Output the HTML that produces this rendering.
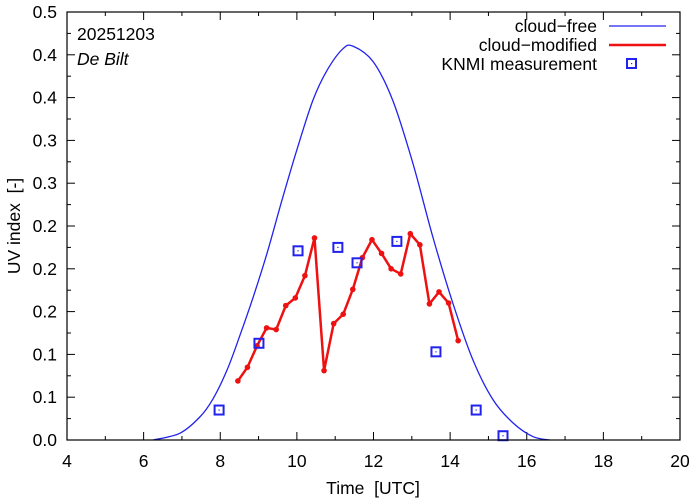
<!DOCTYPE html>
<html><head><meta charset="utf-8"><style>
body{margin:0;background:#fff}
svg{display:block;font-family:"Liberation Sans",sans-serif}
</style></head><body>
<svg id="chart" width="694" height="501" viewBox="0 0 694 501" xmlns="http://www.w3.org/2000/svg">
<g id="grid"></g>
<g id="series"></g>
<rect x="67" y="12" width="613" height="428" fill="none" stroke="#000" stroke-width="1.2"/>
<text x="77" y="40" font-size="17.5">20251203</text>
<text x="77" y="65" font-size="17.5" font-style="italic">De Bilt</text>
<text x="373" y="494" font-size="17.5" text-anchor="middle" xml:space="preserve">Time  [UTC]</text>
<text transform="translate(20,226) rotate(-90)" font-size="17.5" text-anchor="middle" xml:space="preserve">UV index  [-]</text>
<g>
<text x="597" y="32" font-size="17.5" text-anchor="end">cloud−free</text>
<line x1="609" y1="26" x2="666" y2="26" stroke="#2222ee" stroke-width="1.3"/>
<text x="597" y="51" font-size="17.5" text-anchor="end">cloud−modified</text>
<line x1="609" y1="45" x2="666" y2="45" stroke="#ee1111" stroke-width="2.5"/>
<text x="597" y="70" font-size="17.5" text-anchor="end">KNMI measurement</text>
<rect x="627" y="59" width="9" height="9" fill="none" stroke="#2222ee" stroke-width="2"/>
<rect x="631" y="63" width="1.2" height="1.2" fill="#2222ee"/>
</g>
</svg>
<script>
const freeTimes=[6.25,6.95,7.47,7.81,8.18,8.52,8.86,9.22,9.61,10.0,10.42,10.79,11.2,11.47,11.99,12.5,13.03,13.55,14.07,14.6,15.12,15.64,16.16,16.6];
const freeValues=[0,0.008,0.027,0.048,0.082,0.123,0.167,0.218,0.280,0.339,0.397,0.432,0.457,0.460,0.442,0.397,0.323,0.237,0.160,0.093,0.047,0.020,0.004,0];
const modTimes=[8.46,8.71,8.96,9.21,9.46,9.71,9.96,10.21,10.46,10.71,10.96,11.21,11.46,11.71,11.96,12.21,12.46,12.71,12.96,13.21,13.46,13.71,13.96,14.21];
const modValues=[0.069,0.085,0.110,0.131,0.129,0.157,0.166,0.192,0.236,0.081,0.136,0.147,0.176,0.213,0.234,0.218,0.200,0.194,0.241,0.228,0.159,0.173,0.160,0.116];
const measTimes=[7.97,9.01,10.03,11.07,11.57,12.61,13.63,14.68,15.38];
const measValues=[0.035,0.113,0.221,0.225,0.207,0.232,0.103,0.035,0.005];
const xTicks=[4,6,8,10,12,14,16,18,20];
const yTickValues=[0,0.05,0.1,0.15,0.2,0.25,0.3,0.35,0.4,0.45,0.5];
const yTickLabels=["0.0","0.1","0.1","0.2","0.2","0.2","0.3","0.3","0.4","0.4","0.5"];
const NS="http://www.w3.org/2000/svg";
const X=t=>67+(t-4)*613/16, Y=v=>440-v*856;
const grid=document.getElementById('grid'),ser=document.getElementById('series');
function mk(tag,attrs,parent){const e=document.createElementNS(NS,tag);for(const k in attrs)e.setAttribute(k,attrs[k]);parent.appendChild(e);return e;}
for(let t=4;t<=20;t++){const L=t%2===0?8:4;
 const a=mk('line',{x1:X(t),x2:X(t),y1:440,y2:440-L,stroke:'#000'},grid);
 
 
 mk('line',{x1:X(t),x2:X(t),y1:12,y2:12+L,stroke:'#000'},grid);}
xTicks.forEach(t=>{const e=mk('text',{x:X(t),y:467,'font-size':17.5,'text-anchor':'middle'},grid);e.textContent=t;
 
 });
for(let i=0;i<=20;i++){const v=i*0.025,L=i%2===0?8:4;
 mk('line',{x1:67,x2:67+L,y1:Y(v),y2:Y(v),stroke:'#000'},grid);
 mk('line',{x1:680,x2:680-L,y1:Y(v),y2:Y(v),stroke:'#000'},grid);}
yTickLabels.forEach((s,i)=>{const e=mk('text',{x:57,y:Y(yTickValues[i])+6,'font-size':17.5,'text-anchor':'end'},grid);e.textContent=s;
 
 });
const P=freeTimes.map((t,i)=>[X(t),Y(freeValues[i])]);
let d='M'+P[0][0]+','+P[0][1];
for(let i=0;i<P.length-1;i++){const p0=P[Math.max(0,i-1)],p1=P[i],p2=P[i+1],p3=P[Math.min(P.length-1,i+2)];
 d+='C'+(p1[0]+(p2[0]-p0[0])/6)+','+(p1[1]+(p2[1]-p0[1])/6)+' '+(p2[0]-(p3[0]-p1[0])/6)+','+(p2[1]-(p3[1]-p1[1])/6)+' '+p2[0]+','+p2[1];}
const fp=mk('path',{d:d,fill:'none',stroke:'#2222ee','stroke-width':1.3},ser);


const mp=mk('path',{d:modTimes.map((t,i)=>(i?'L':'M')+X(t)+','+Y(modValues[i])).join(''),fill:'none',stroke:'#ee1111','stroke-width':2.5,'stroke-linejoin':'round'},ser);


modTimes.forEach((t,i)=>{const c=mk('circle',{cx:X(t),cy:Y(modValues[i]),r:2.8,fill:'#ee1111'},ser);
 
 });
measTimes.forEach((t,i)=>{const x=X(t),y=Y(measValues[i]);
 const r=mk('rect',{x:x-4.5,y:y-4.5,width:9,height:9,fill:'none',stroke:'#2222ee','stroke-width':2},ser);
 
 
 mk('rect',{x:x-0.6,y:y-0.6,width:1.2,height:1.2,fill:'#2222ee'},ser);});
</script>
</body></html>
